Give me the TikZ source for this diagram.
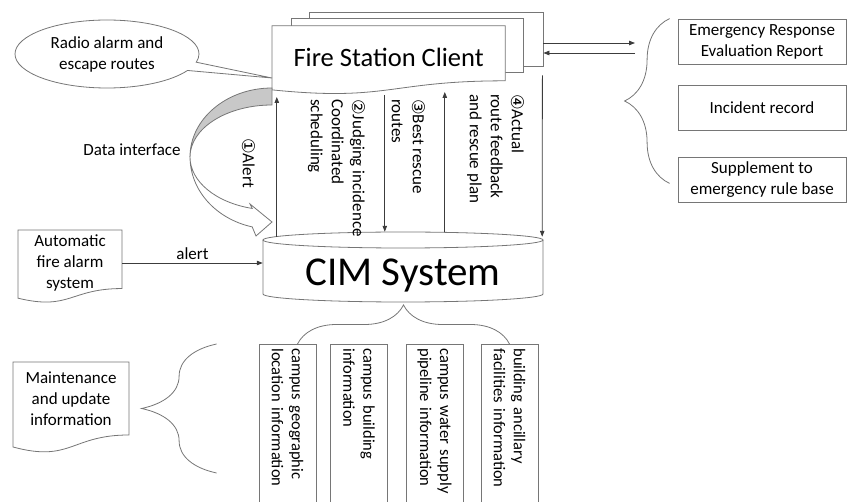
\documentclass[tikz,border=0pt]{standalone}
\usepackage{fontspec}
\setmainfont{Carlito}
\newfontfamily\circfont{DejaVu Sans}
\usetikzlibrary{arrows.meta, calc, positioning, shapes.callouts, decorations.pathreplacing}
\definecolor{lineclr}{RGB}{118,118,118}
\definecolor{arrowclr}{RGB}{60,60,60}
\definecolor{bandgray}{RGB}{200,200,200}
\newcommand{\lblfont}{\fontsize{17}{21}\selectfont}
\newcommand{\cn}[1]{{\circfont\fontsize{17.5}{21}\selectfont #1}}
% document outline: x, y (top left), width, height
\newcommand{\docoutline}[4]{%
  \draw[shape line, fill=white] (#1,#2) -- ({#1+#3},#2) -- ({#1+#3},{#2+0.802*#4})
    .. controls ({#1+0.5*#3},{#2+0.802*#4}) and ({#1+0.5*#3},{#2+1.107*#4})
    .. (#1,{#2+0.934*#4}) -- cycle;}

\begin{document}
\begin{tikzpicture}[x=1pt, y=-1pt,
    shape line/.style={draw=lineclr, line width=0.8pt},
    arr/.style={draw=arrowclr, line width=0.8pt, -{Triangle[length=6pt,width=4.5pt]}},
    lbl/.style={font=\lblfont, inner sep=1pt},
    vlbl/.style={font=\lblfont, rotate=-90, anchor=north west, align=left, inner sep=0pt},
    infobox/.style={shape line, rotate=-90, anchor=west, minimum width=164, minimum height=57,
        text width=156, inner xsep=4pt, inner ysep=0pt, align=left, font=\fontsize{16.5}{20}\selectfont},
    rbox/.style={shape line, minimum width=168, minimum height=45, align=center, inner sep=1pt, font=\lblfont},
    docnode/.style={align=center, inner sep=0pt, font=\lblfont},
    curly/.style={shape line, decorate, decoration={brace, amplitude=#1}}
]
    \useasboundingbox (0,0) rectangle (847,502);

    % Fire station client (stacked documents)
    \node[shape line, fill=white, inner sep=0pt, minimum width=233.7, minimum height=54] (fscback) at (426.15,39) {};
    \node[shape line, fill=white, inner sep=0pt, minimum width=231.7, minimum height=54] (fscmid) at (407.05,45.85) {};
    \docoutline{272}{25.8}{233.3}{68.6}
    \node[inner sep=0pt, minimum width=233.3, minimum height=64, font=\fontsize{26.5}{30}\selectfont] (fsc) at (388.65,57.8) {Fire Station Client};

    % Callout
    \node[ellipse callout, shape line, fill=white, minimum width=184, minimum height=68, align=center,
        font=\lblfont, callout absolute pointer={(272,78)}] (radio) at (107,54) {Radio alarm and\\escape routes};

    % Curved block arrow
    \filldraw[shape line, fill=bandgray] (272,88) arc[start angle=270, end angle=180, x radius=82, y radius=69]
        arc[start angle=180, end angle=270, x radius=82, y radius=52] -- cycle;
    \filldraw[shape line, fill=white] (190,157) arc[start angle=180, end angle=104, x radius=82, y radius=53]
        -- (250,204) -- (272,222) -- (256,236) -- (252.2,226.9)
        arc[start angle=104, end angle=180, x radius=82, y radius=72] -- cycle;
    \node[lbl] (dataif) at (132,150) {Data interface};

    % CIM system cylinder
    \draw[shape line] (263,240) -- (263,294) arc[start angle=180, end angle=0, x radius=140, y radius=8] -- (543,240);
    \draw[shape line] (403,240) ellipse [x radius=140, y radius=8];
    \node[inner sep=0pt, minimum width=280, minimum height=54, font=\fontsize{41}{45}\selectfont] (cim) at (403,276) {CIM System};

    % Automatic fire alarm
    \docoutline{18}{230}{104}{73}
    \node[docnode, minimum width=104, minimum height=66] (autofire) at (70,263) {Automatic\\fire alarm\\system};
    \draw[arr] (autofire.east) -- (autofire.east -| cim.west) node[midway, above=3pt, font=\lblfont, inner sep=0pt] (alertlbl) {alert};

    % Arrows between client and CIM
    \draw[arr] ($(cim.north west)+(14,-12)$) -- ($(fsc.south west)+(5,7)$);
    \draw[arr] ($(fsc.south west)+(113,5)$) -- ($(cim.north west)+(122,-17)$);
    \draw[arr] ($(cim.north west)+(182,-17)$) -- ($(fsc.south west)+(173,2)$);
    \draw[arr] ($(fscback.south east)+(-1,9)$) -- ($(cim.north east)+(-1,-12)$);
    \node[vlbl] (lalert) at (256,138) {\cn{①}Alert};
    \node[vlbl] (ljudge) at (366,99) {\cn{②}Judging incidence\\Coordinated\\scheduling};
    \node[vlbl] (lbest) at (426,99) {\cn{③}Best rescue\\routes};
    \node[vlbl] (lactual) at (525,94) {\cn{④}Actual\\route feedback\\and rescue plan};

    % Results on the right
    \node[rbox] (report) at (762,41.5) {Emergency Response\\Evaluation Report};
    \node[rbox] (incident) at (762,108) {Incident record};
    \node[rbox] (rulebase) at (762,179.5) {Supplement to\\emergency rule base};
    \coordinate (reportin) at (635,48);
    \draw[arr] ([yshift=-4pt]fscback.east) -- ([yshift=-4pt]fscback.east -| reportin);
    \draw[arr] ([yshift=-14pt]fscback.east -| reportin) -- ([yshift=-14pt]fscback.east);
    \draw[curly=45pt] ([xshift=-8pt,yshift=19pt]rulebase.south west) -- ([xshift=-8pt]report.north west);

    % Information boxes below
    \node[infobox] (geo) at (287.5,344) {campus geographic\\location information};
    \node[infobox] (bldg) at (359,344) {campus building\\information};
    \node[infobox] (water) at (434.5,344) {campus water supply\\pipeline information};
    \node[infobox] (anc) at (509.5,344) {building ancillary\\facilities information};
    \draw[curly=39pt] ($(geo.west)+(10,0)$) -- (anc.west);

    % Maintenance
    \docoutline{13}{362}{116}{91}
    \node[docnode, minimum width=116, minimum height=74] (maint) at (71,399) {Maintenance\\and update\\information};
    \draw[curly=75pt] ([xshift=-42pt,yshift=-129pt]geo.south west) -- ([xshift=-42pt]geo.south west);
\end{tikzpicture}
\end{document}
